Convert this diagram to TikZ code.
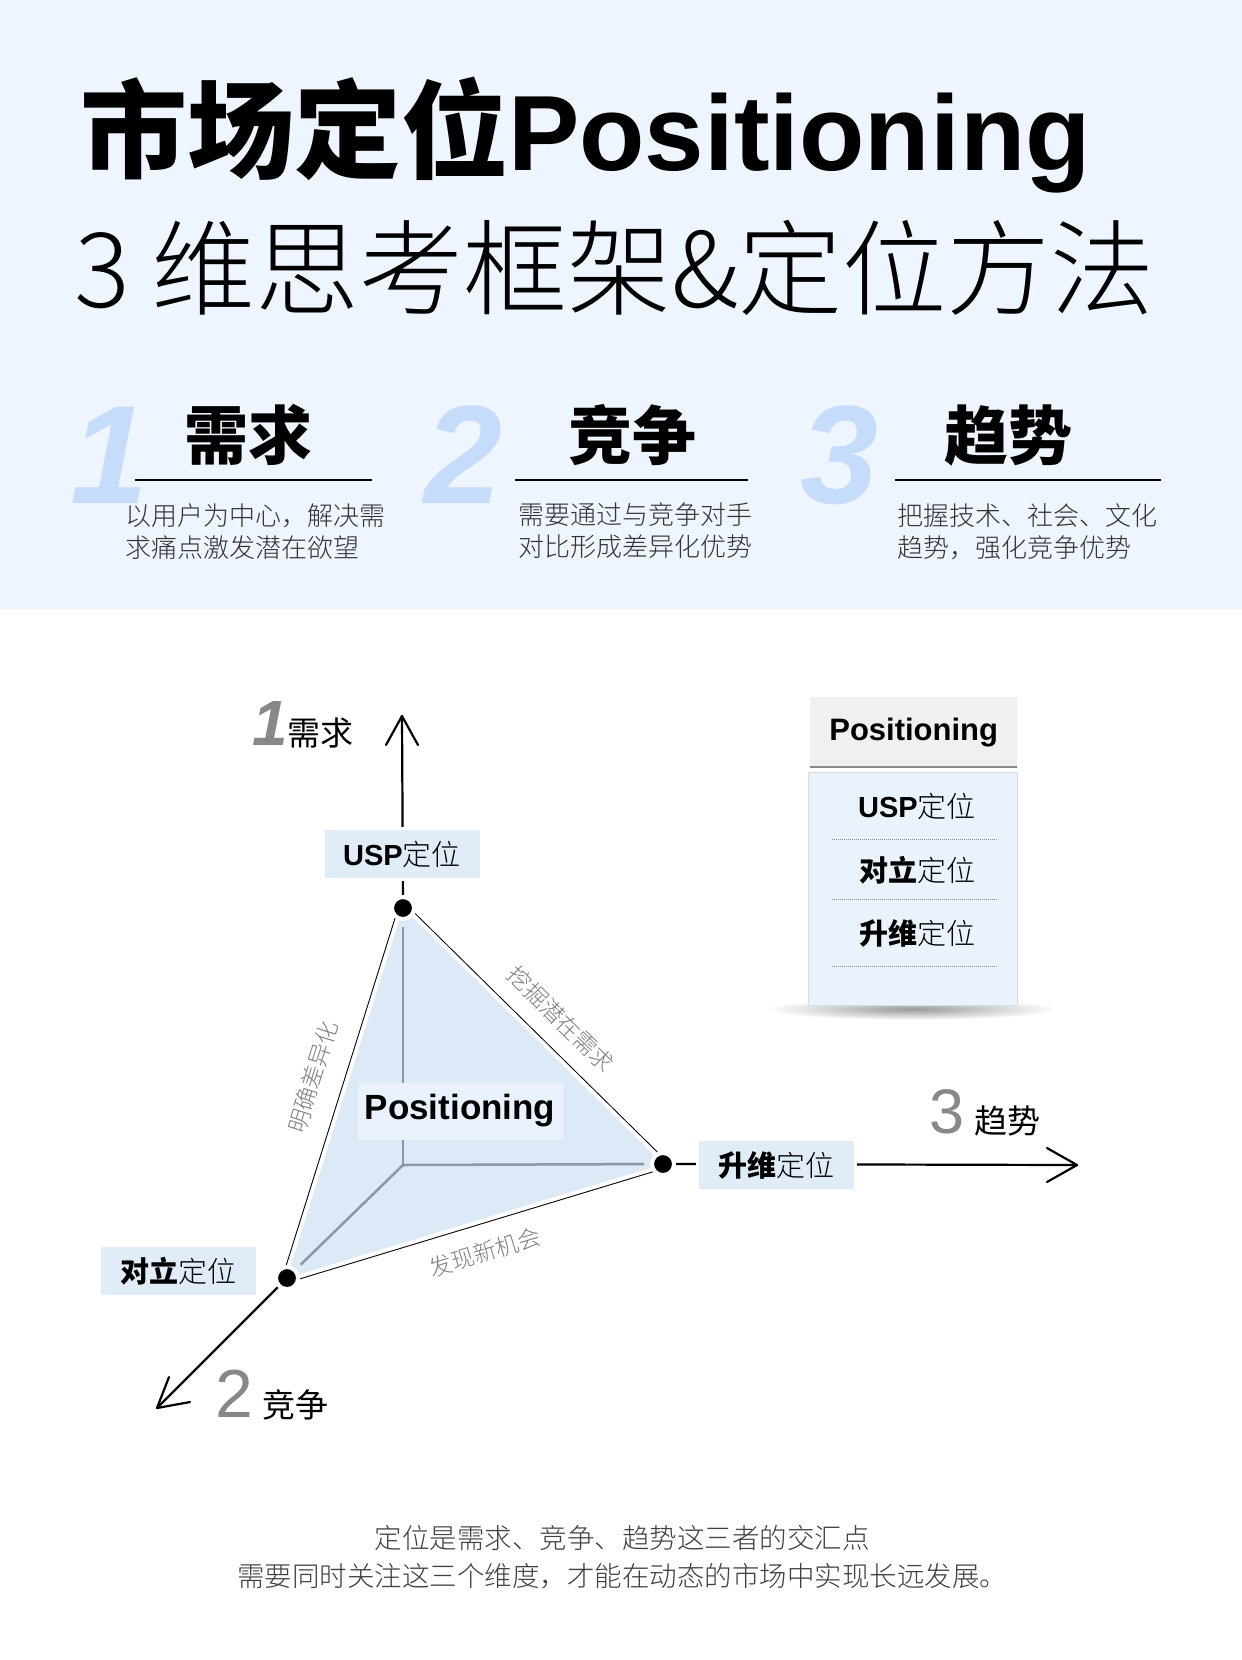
\documentclass[tikz,border=0pt]{standalone}
\usepackage{fontspec}
\setmainfont{Liberation Sans}
\newfontfamily\cjk{Noto Sans CJK SC}
\IfFontExistsTF{Noto Sans CJK SC Light}
  {\newfontfamily\cjkthin{Noto Sans CJK SC Light}}
  {\newfontfamily\cjkthin{Noto Sans CJK SC}}
\usetikzlibrary{fadings}
\newcommand{\fsz}[1]{\fontsize{#1}{#1}\selectfont}
\definecolor{bandblue}{HTML}{EFF5FE}
\definecolor{numblue}{HTML}{C5DDFA}
\definecolor{boxblue}{HTML}{E0EDF9}
\definecolor{trifill}{HTML}{DCEAF8}
\definecolor{posbox}{HTML}{E9F2FC}
\definecolor{legendfill}{HTML}{EAF3FC}
\definecolor{legendedge}{HTML}{D3DEE8}
\definecolor{headgray}{HTML}{F0F0F0}
\definecolor{linegray}{HTML}{8A8A8A}
\definecolor{innergray}{HTML}{8A98A6}
\definecolor{numgray}{HTML}{888888}
\definecolor{edgegray}{HTML}{808080}
\definecolor{desctext}{HTML}{333333}
\definecolor{bottomtext}{HTML}{404040}
\tikzfading[name=fuzzyshadow, inner color=transparent!0, outer color=transparent!100]
\pgfdeclarelayer{back}
\pgfdeclarelayer{bg}
\pgfsetlayers{back,bg,main}

\begin{document}
\begin{tikzpicture}[x=1pt,y=-1pt]
\tikzstyle{every node}+=[inner sep=0pt]
\tikzstyle{vdot}=[circle, fill=black, draw=white, line width=4pt, minimum size=22pt]
\tikzstyle{axislbl}=[fill=boxblue, draw=white, line width=3pt, minimum width=158pt, minimum height=51pt, font=\fsz{29}]
\tikzstyle{edgelbl}=[text=edgegray, font=\cjkthin\fsz{23}]
\tikzstyle{desc}=[anchor=north west, align=left, text=desctext, font=\cjkthin\fontsize{26}{32}\selectfont]
\tikzstyle{bignum}=[anchor=base west, text=numblue, font=\bfseries\itshape\fsz{140}]
\tikzstyle{heading}=[anchor=base, font=\cjk\bfseries\fsz{64}]
\tikzstyle{axisline}=[line width=2.2pt, line cap=round, line join=round]
\tikzstyle{innerline}=[draw=innergray, line width=2.5pt, shorten >=19pt]
\tikzstyle{dotrule}=[draw=linegray, line width=1pt, dash pattern=on 1pt off 1pt]
\useasboundingbox (0,0) rectangle (1242,1660);
\begin{pgfonlayer}{back}
\fill[white] (0,0) rectangle (1242,1660);
\fill[bandblue] (0,0) rectangle (1242,609);
\end{pgfonlayer}

% title
\node[anchor=base west] (title) at (80,170) {\fsz{107}{\cjk\bfseries 市场定位}\bfseries Positioning};
\node[anchor=base west] (subtitle) at (74,307) {\cjkthin\fsz{104}3\hspace{22pt}维思考框架\&定位方法};

% three dimensions
\node[bignum] (n1) at (70,503) {1};
\node[bignum] (n2) at (424,503) {2};
\node[bignum] (n3) at (800,503) {3};
\node[heading] (h1) at (248,459) {需求};
\node[heading] (h2) at (632,459) {竞争};
\node[heading] (h3) at (1008,459) {趋势};
\draw[line width=2pt] (135,480) -- (372,480);
\draw[line width=2pt] (515,480) -- (748,480);
\draw[line width=2pt] (895,480) -- (1161,480);
\node[desc] (d1) at (125,503) {以用户为中心，解决需\\求痛点激发潜在欲望};
\node[desc] (d2) at (518,503) {需要通过与竞争对手\\对比形成差异化优势};
\node[desc] (d3) at (897,503) {把握技术、社会、文化\\趋势，强化竞争优势};

% axes and triangle
\coordinate (O) at (403,1165);
\coordinate (tip1) at (402,716);
\coordinate (tip2) at (157,1408);
\coordinate (tip3) at (1077,1165);
\node[vdot] (A) at (403,908) {};
\node[vdot] (B) at (663,1164) {};
\node[vdot] (C) at (287,1278) {};
\node[axislbl] (usp) at (402,854) {{\bfseries USP}{\cjkthin 定位}};
\node[axislbl] (up) at (776,1165) {{\cjk\bfseries 升维}{\cjkthin 定位}};
\node[axislbl] (opp) at (178,1271) {{\cjk\bfseries 对立}{\cjkthin 定位}};
\node[fill=posbox, minimum width=205pt, minimum height=57pt, font=\bfseries\fsz{35}] (pos) at (460,1111) {Positioning};

\begin{pgfonlayer}{bg}
\draw[line width=10pt, line join=round] (A.center) -- (B.center) -- (C.center) -- cycle;
\draw[white, line width=8pt, line join=round] (A.center) -- (B.center) -- (C.center) -- cycle;
\fill[trifill] (A.center) -- (B.center) -- (C.center) -- cycle;
\draw[innerline] (O) -- (A.center);
\draw[innerline] (O) -- (B.center);
\draw[innerline] (O) -- (C.center);
\draw[axisline] (A) -- (tip1);
\draw[axisline] (B) -- (tip3);
\draw[axisline] (C) -- (tip2);
\draw[axisline] (tip1) ++(-16,29) -- (tip1) -- ++(16,29);
\draw[axisline] (tip3) ++(-30,-17) -- (tip3) -- ++(-30,17);
\draw[axisline] (tip2) ++(12,-31) -- (tip2) -- ++(33,-6);
\end{pgfonlayer}

\node[anchor=base west] (l1) at (252,745) {{\fsz{64}\bfseries\itshape\color{numgray}1}{\cjk\fsz{33}需求}};
\node[anchor=base west] (l2) at (215,1417) {{\fsz{68}\color{numgray}2}\hspace{9pt}{\cjk\fsz{33}竞争}};
\node[anchor=base west] (l3) at (929,1133) {{\fsz{63}\color{numgray}3}\hspace{10pt}{\cjk\fsz{33}趋势}};

\node[edgelbl, rotate=72.5] (e1) at (313,1077) {明确差异化};
\node[edgelbl, rotate=-44.5] (e2) at (561,1019) {挖掘潜在需求};
\node[edgelbl, rotate=17] (e3) at (485,1252) {发现新机会};

% legend
\fill[black, opacity=0.4, path fading=fuzzyshadow] (912,1009) ellipse [x radius=145, y radius=11];
\node[fill=legendfill, draw=legendedge, line width=1pt, minimum width=209pt, minimum height=233pt, anchor=north west] (lbox) at (808,772) {};
\node[fill=headgray, minimum width=207pt, minimum height=70pt, anchor=north west, font=\bfseries\fsz{31}] (lhead) at (810,697) {Positioning};
\draw[draw=linegray, line width=2pt] (lhead.south west) -- (lhead.south east);
\node[font=\fsz{29}] (li1) at (917,806) {{\bfseries USP}{\cjkthin 定位}};
\node[font=\fsz{29}] (li2) at (917,870) {{\cjk\bfseries 对立}{\cjkthin 定位}};
\node[font=\fsz{29}] (li3) at (917,933) {{\cjk\bfseries 升维}{\cjkthin 定位}};
\draw[dotrule] (832,839) -- (997,839);
\draw[dotrule] (832,899) -- (997,899);
\draw[dotrule] (832,966) -- (997,966);

% summary
\node[anchor=north, align=center, text=bottomtext, font=\cjkthin\fontsize{27.5}{38}\selectfont] (summary) at (622,1525) {定位是需求、竞争、趋势这三者的交汇点\\需要同时关注这三个维度，才能在动态的市场中实现长远发展。};
\end{tikzpicture}
\end{document}
